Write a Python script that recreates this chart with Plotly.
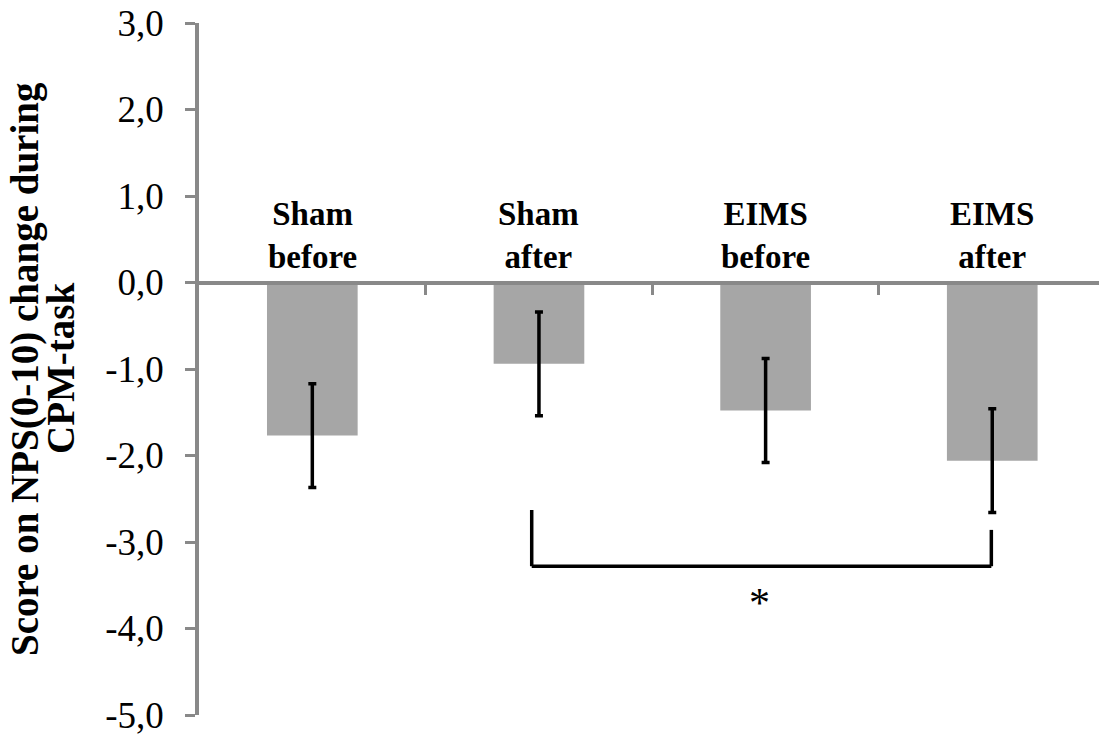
import plotly.graph_objects as go

# ---- data ----
categories = ["Sham before", "Sham after", "EIMS before", "EIMS after"]
cat_labels = ["Sham<br>before", "Sham<br>after", "EIMS<br>before", "EIMS<br>after"]
values = [-1.77, -0.94, -1.48, -2.06]
errors = [0.60, 0.60, 0.60, 0.60]
y_ticks = [3, 2, 1, 0, -1, -2, -3, -4, -5]
y_ticktext = [f"{v:.1f}".replace(".", ",") for v in y_ticks]
y_title_lines = ["Score on NPS(0-10) change during", "CPM-task"]

# significance bracket between "Sham after" and "EIMS after"
bracket_x = [0.968, 2.996]          # category-index positions of the bracket legs
bracket_top = [-2.63, -2.86]        # top of left / right leg
bracket_bottom = -3.28
star_pos = (1.973, -3.70)

FONT = "Times New Roman, Liberation Serif, DejaVu Serif, serif"
AXIS_GREY = "#898989"
LEFT = 199

fig = go.Figure()
fig.add_trace(go.Bar(
    x=list(range(len(categories))),
    y=values,
    width=0.4,
    marker=dict(color="#a6a6a6", line=dict(width=0)),
    error_y=dict(type="data", array=errors, visible=True,
                 color="black", thickness=3.5, width=4),
    hoverinfo="skip",
))

# bracket
fig.add_shape(type="line", xref="x", yref="y",
              x0=bracket_x[0], x1=bracket_x[0], y0=bracket_top[0], y1=bracket_bottom,
              line=dict(color="black", width=3.5))
fig.add_shape(type="line", xref="x", yref="y",
              x0=bracket_x[1], x1=bracket_x[1], y0=bracket_top[1], y1=bracket_bottom,
              line=dict(color="black", width=3.5))
fig.add_shape(type="line", xref="x", yref="y",
              x0=bracket_x[0], x1=bracket_x[1], y0=bracket_bottom, y1=bracket_bottom,
              line=dict(color="black", width=3.5))
fig.add_annotation(x=star_pos[0], y=star_pos[1], xref="x", yref="y",
                   text="*", showarrow=False,
                   font=dict(family=FONT, size=42, color="black"))

# category labels above the zero line
for i, lab in enumerate(cat_labels):
    fig.add_annotation(x=i, y=0, xref="x", yref="y", text="<b>" + lab + "</b>",
                       showarrow=False, yanchor="bottom", yshift=6,
                       font=dict(family=FONT, size=33, color="black"))

# y-axis title (two rotated lines)
fig.add_annotation(x=0, y=0.5, xref="paper", yref="paper", text="<b>" + y_title_lines[0] + "</b>",
                   textangle=-90, showarrow=False, xanchor="left", yanchor="middle",
                   xshift=-LEFT + 1, font=dict(family=FONT, size=39, color="black"))
fig.add_annotation(x=0, y=0.5, xref="paper", yref="paper", text="<b>" + y_title_lines[1] + "</b>",
                   textangle=-90, showarrow=False, xanchor="center", yanchor="middle",
                   xshift=-139, font=dict(family=FONT, size=39, color="black"))

fig.update_layout(
    width=1099, height=743,
    margin=dict(l=LEFT, r=0, t=23, b=28),
    paper_bgcolor="white", plot_bgcolor="white",
    showlegend=False,
    font=dict(family=FONT, color="black"),
    xaxis=dict(
        range=[-0.5, 3.471],
        tickmode="array", tickvals=[0.5, 1.5, 2.5],
        showticklabels=False,
        ticks="outside", ticklen=11, tickwidth=3, tickcolor=AXIS_GREY,
        showline=True, linecolor=AXIS_GREY, linewidth=3.5,
        showgrid=False, zeroline=False,
        anchor="free", position=0.625,
        automargin=False,
    ),
    yaxis=dict(
        range=[-5, 3],
        tickmode="array", tickvals=y_ticks, ticktext=y_ticktext,
        ticks="outside", ticklen=10, tickwidth=3, tickcolor=AXIS_GREY,
        showline=True, linecolor=AXIS_GREY, linewidth=3.5,
        showgrid=False, zeroline=False,
        tickfont=dict(family=FONT, size=37, color="black"),
        ticklabelstandoff=14,
        ticklabeloverflow="allow",
        automargin=False,
    ),
)

fig.write_html("out.html",
               config={"displayModeBar": False},
               post_script="document.body.style.margin='0';document.body.style.overflow='hidden';")
